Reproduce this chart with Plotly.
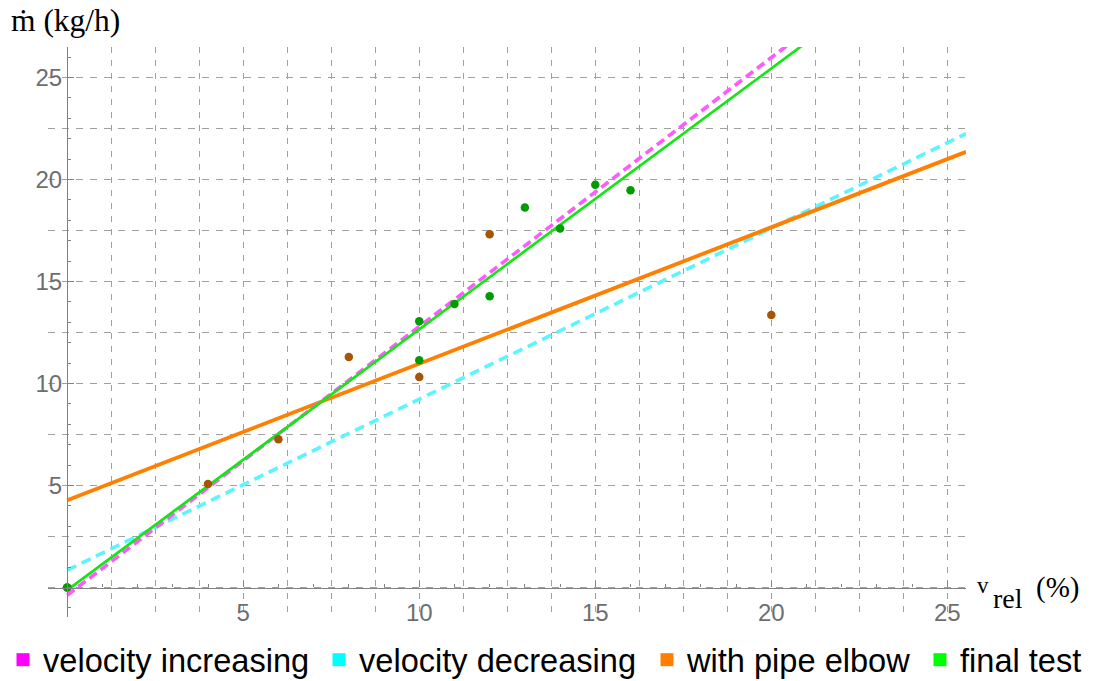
import plotly.graph_objects as go

# ---- data ----
elbow_x = [0, 4, 6, 8, 10, 12, 20]
elbow_y = [0, 5.08, 7.27, 11.30, 10.32, 17.32, 13.36]

final_x = [0, 10, 10, 11, 12, 13, 14, 15, 16]
final_y = [0, 13.05, 11.14, 13.90, 14.28, 18.63, 17.60, 19.75, 19.48]

fit_x = [0, 25.53]
fit_inc_y = [-0.38, 33.27]
fit_dec_y = [0.85, 22.25]
fit_elbow_y = [4.28, 21.36]
fit_final_y = [-0.13, 32.52]

tick_vals = [5, 10, 15, 20, 25]
tick_text = ["5", "10", "15", "20", "25"]

series_names = ["velocity increasing", "velocity decreasing", "with pipe elbow", "final test"]
legend_colors = ["#FF00FF", "#00FFFF", "#FF8000", "#00FF00"]
legend_left_px = [3, 319, 647, 920]

# ---- layout constants ----
W, H = 1095, 681
L, R, T, B = 48, 129, 47, 64
xmin, xmax = -0.545, 25.53
ymin, ymax = -1.446, 26.5
pw, ph = W - L - R, H - T - B

def px2paper_x(px):
    return (px - L) / pw

def px2paper_y(py):
    return (H - B - py) / ph

grid_col = "rgb(160,160,160)"
axis_col = "rgb(130,130,130)"
tick_font = dict(family="Liberation Sans", size=24, color="rgb(110,110,110)")

fig = go.Figure()

fig.add_trace(go.Scatter(x=fit_x, y=fit_dec_y, mode="lines", showlegend=False,
                         line=dict(color="rgb(90,245,255)", width=3.6, dash="10px,6px")))
fig.add_trace(go.Scatter(x=fit_x, y=fit_elbow_y, mode="lines", showlegend=False,
                         line=dict(color="#FF8000", width=3.8)))
fig.add_trace(go.Scatter(x=fit_x, y=fit_inc_y, mode="lines", showlegend=False,
                         line=dict(color="rgb(255,90,255)", width=3.6, dash="9px,5px")))
fig.add_trace(go.Scatter(x=fit_x, y=fit_final_y, mode="lines", showlegend=False,
                         line=dict(color="rgb(20,230,20)", width=2.7)))
fig.add_trace(go.Scatter(x=elbow_x, y=elbow_y, mode="markers", showlegend=False,
                         marker=dict(color="rgb(165,85,5)", size=8.5)))
fig.add_trace(go.Scatter(x=final_x, y=final_y, mode="markers", showlegend=False,
                         marker=dict(color="rgb(0,155,0)", size=8.5)))

# invisible helpers so that the overlaid axes (drawn through the origin) are rendered
fig.add_trace(go.Scatter(x=[0], y=[0], xaxis="x2", yaxis="y", mode="markers",
                         marker=dict(opacity=0), showlegend=False, hoverinfo="skip"))
fig.add_trace(go.Scatter(x=[0], y=[0], xaxis="x", yaxis="y2", mode="markers",
                         marker=dict(opacity=0), showlegend=False, hoverinfo="skip"))

legend_font = dict(family="Liberation Sans", size=32.6, color="black")
legend_layouts = {}
for i, (name, col, lpx) in enumerate(zip(series_names, legend_colors, legend_left_px)):
    key = "legend" if i == 0 else f"legend{i + 1}"
    fig.add_trace(go.Scatter(x=[None], y=[None], mode="markers", name=name, legend=key,
                             marker=dict(symbol="square", size=13, color=col)))
    legend_layouts[key] = dict(orientation="h", x=px2paper_x(lpx), xanchor="left",
                               y=px2paper_y(632), yanchor="top", font=legend_font,
                               bgcolor="rgba(0,0,0,0)", itemsizing="trace")

fig.update_layout(
    width=W, height=H,
    margin=dict(l=L, r=R, t=T, b=B, autoexpand=False),
    paper_bgcolor="white", plot_bgcolor="white",
    showlegend=True,
    xaxis=dict(range=[xmin, xmax], tick0=0, dtick=1.25, showgrid=True,
               gridcolor=grid_col, griddash="6px,7px", gridwidth=1.2,
               showticklabels=False, ticks="", zeroline=False, showline=False),
    yaxis=dict(range=[ymin, ymax], tick0=0, dtick=2.5, showgrid=True,
               gridcolor=grid_col, griddash="7px,7px", gridwidth=1.2,
               showticklabels=False, ticks="", zeroline=False, showline=False),
    xaxis2=dict(overlaying="x", anchor="free", position=(0 - ymin) / (ymax - ymin),
                range=[xmin, xmax], tickmode="array", tickvals=tick_vals, ticktext=tick_text,
                ticks="inside", ticklen=6, tickcolor=axis_col, tickwidth=1,
                showline=True, linecolor=axis_col, linewidth=1.4,
                showgrid=False, zeroline=False, tickfont=tick_font, ticklabelstandoff=3,
                minor=dict(tick0=0, dtick=1, ticks="inside", ticklen=3, tickcolor=axis_col, showgrid=False)),
    yaxis2=dict(overlaying="y", anchor="free", position=(0 - xmin) / (xmax - xmin), side="left",
                range=[ymin, ymax], tickmode="array", tickvals=tick_vals, ticktext=tick_text,
                ticks="inside", ticklen=6, tickcolor=axis_col, tickwidth=1,
                showline=True, linecolor=axis_col, linewidth=1.4,
                showgrid=False, zeroline=False, tickfont=tick_font,
                minor=dict(tick0=0, dtick=1, ticks="inside", ticklen=3, tickcolor=axis_col, showgrid=False)),
    **legend_layouts,
)

serif = "Liberation Serif"
fig.add_annotation(text="ṁ (kg/h)", xref="paper", yref="paper",
                   x=px2paper_x(9), y=px2paper_y(20), xanchor="left", yanchor="middle",
                   showarrow=False, font=dict(family=serif, size=31.5, color="black"))
fig.add_annotation(text="v", xref="paper", yref="paper",
                   x=px2paper_x(975), y=px2paper_y(585), xanchor="left", yanchor="middle",
                   showarrow=False, font=dict(family=serif, size=23, color="black"))
fig.add_annotation(text="rel", xref="paper", yref="paper",
                   x=px2paper_x(991), y=px2paper_y(598), xanchor="left", yanchor="middle",
                   showarrow=False, font=dict(family=serif, size=28, color="black"))
fig.add_annotation(text="(%)", xref="paper", yref="paper",
                   x=px2paper_x(1034), y=px2paper_y(587), xanchor="left", yanchor="middle",
                   showarrow=False, font=dict(family=serif, size=29, color="black"))

fig.write_html("out.html")
